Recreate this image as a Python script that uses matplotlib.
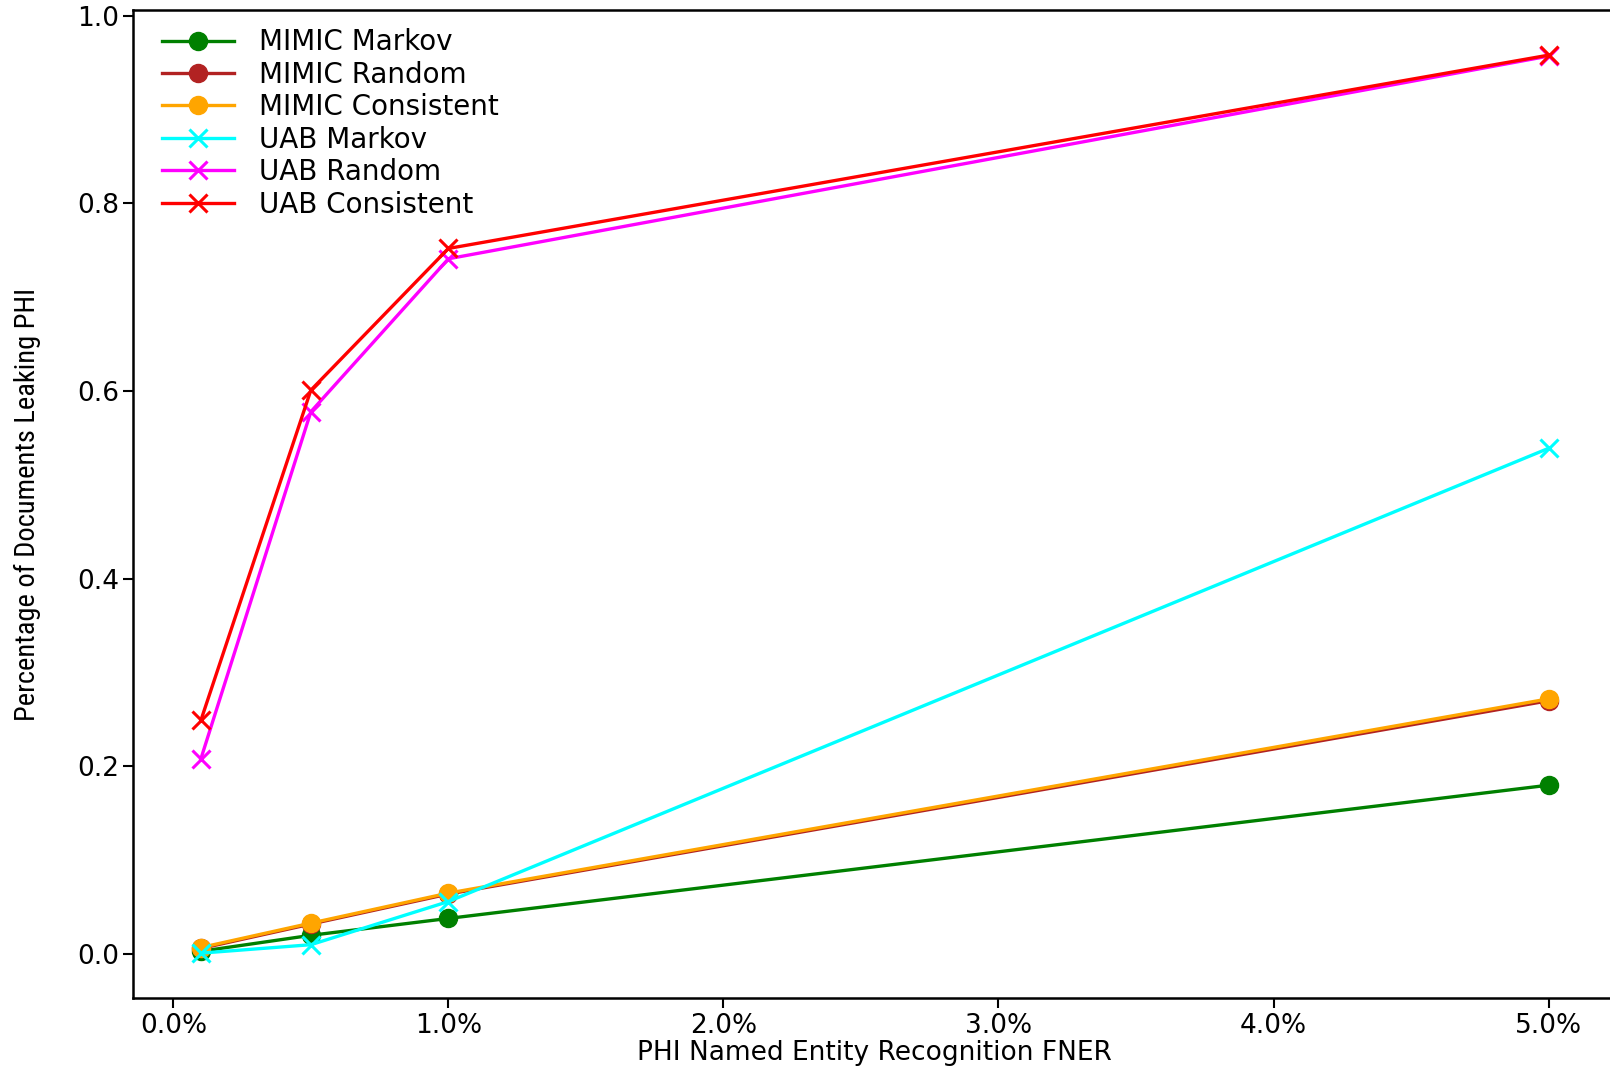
import matplotlib
matplotlib.use('Agg')
import matplotlib.pyplot as plt
import matplotlib.ticker as ticker
from matplotlib import font_manager

# FNER levels (percent) and leak rates
fner = [0.1, 0.5, 1.0, 5.0]

mimic_markov = [0.003, 0.020, 0.038, 0.180]
mimic_random = [0.006, 0.032, 0.064, 0.270]
mimic_consistent = [0.007, 0.033, 0.065, 0.272]
uab_markov = [0.001, 0.010, 0.056, 0.539]
uab_random = [0.208, 0.578, 0.741, 0.957]
uab_consistent = [0.249, 0.601, 0.752, 0.958]

series = [
    ('MIMIC Markov', mimic_markov, 'green', 'o'),
    ('MIMIC Random', mimic_random, 'firebrick', 'o'),
    ('MIMIC Consistent', mimic_consistent, 'orange', 'o'),
    ('UAB Markov', uab_markov, 'cyan', 'x'),
    ('UAB Random', uab_random, 'magenta', 'x'),
    ('UAB Consistent', uab_consistent, 'red', 'x'),
]

names = set(f.name for f in font_manager.fontManager.ttflist)
narrow = [n for n in ['Roboto Condensed', 'Open Sans Condensed', 'Liberation Sans Narrow', 'Open Sans']
          if n in names] + ['DejaVu Sans']

fig = plt.figure(figsize=(16.1, 10.68), dpi=100)
ax = fig.add_axes([0.0829, 0.0655, 0.9208, 0.9249])

for name, vals, col, mk in series:
    if mk == 'o':
        ax.plot(fner, vals, color=col, marker=mk, markersize=13, linewidth=2.4, label=name)
    else:
        ax.plot(fner, vals, color=col, marker=mk, markersize=13, markeredgewidth=2.2,
                linewidth=2.4, label=name)

ax.xaxis.set_major_formatter(ticker.FuncFormatter(lambda v, p: '%.1f%%' % v))
ax.yaxis.set_major_locator(ticker.MultipleLocator(0.2))
ax.tick_params(labelsize=19, length=7, width=1.5)
for s in ax.spines.values():
    s.set_linewidth(1.8)

ax.set_xlabel('PHI Named Entity Recognition FNER', fontsize=19, labelpad=1)
ax.set_ylabel('Percentage of Documents Leaking PHI', fontsize=20.5,
              family=narrow, labelpad=26)

ax.legend(loc='upper left', bbox_to_anchor=(0.007, 1.0), frameon=False, fontsize=20,
          handlelength=2.6, handletextpad=0.9, labelspacing=0.16, borderaxespad=0.25)

fig.savefig('out.png', dpi=100)
plt.close()
